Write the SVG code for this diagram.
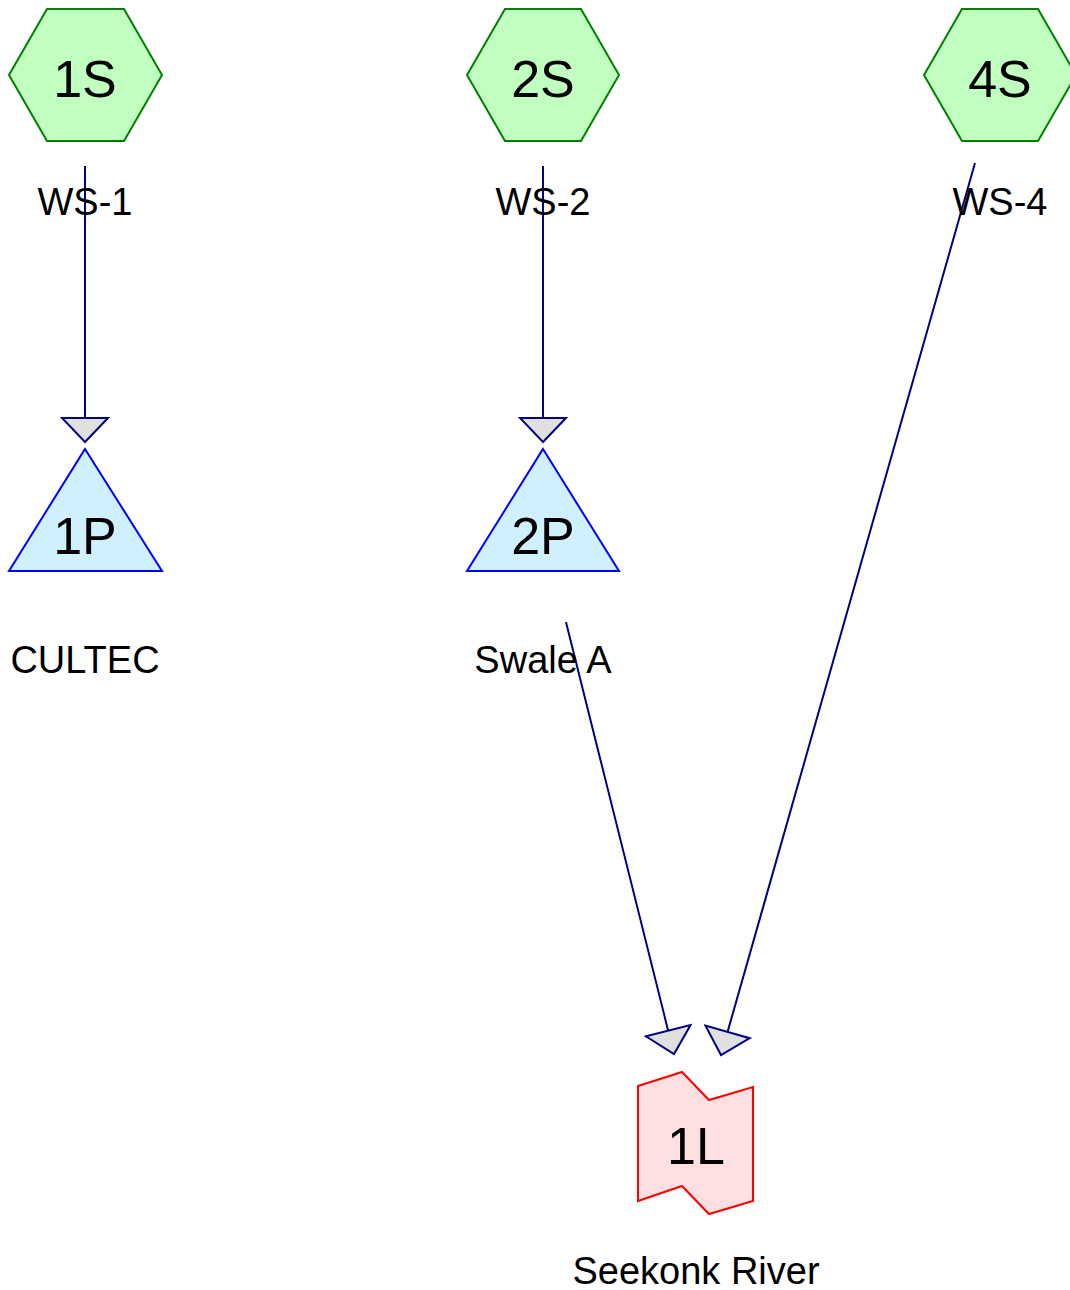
<svg xmlns="http://www.w3.org/2000/svg" width="1070" height="1290" viewBox="0 0 1070 1290">
<style>
.hex{fill:#c0ffc0;stroke:#008000;stroke-width:2}
.pond{fill:#d0f0ff;stroke:#0000ff;stroke-width:2}
.link{fill:#ffe0e0;stroke:#ff0000;stroke-width:2}
.edge{stroke:#000080;stroke-width:2;fill:none;marker-end:url(#arr)}
.id{font-family:"Liberation Sans",Arial,sans-serif;font-size:52px;text-anchor:middle;fill:#000}
.lbl{font-family:"Liberation Sans",Arial,sans-serif;font-size:38px;text-anchor:middle;fill:#000}
</style>
<defs>
<marker id="arr" markerUnits="userSpaceOnUse" markerWidth="30" markerHeight="50" viewBox="-2 -25 30 50" refX="24" refY="0" orient="auto">
<path d="M0,-23 L24,0 L0,23 Z" fill="#e0e0e0" stroke="#000080" stroke-width="2" stroke-linejoin="miter"/>
</marker>
</defs>
<g id="connectors">
<line class="edge" x1="85" y1="166" x2="85" y2="442"/>
<line class="edge" x1="543" y1="166" x2="543" y2="442"/>
<line class="edge" x1="566" y1="622" x2="674" y2="1054"/>
<line class="edge" x1="975" y1="163" x2="721" y2="1055"/>
</g>
<g id="node-1S">
<polygon class="hex" points="9,75 47,9 124,9 162,75 124,141 47,141"/>
<text class="id" x="85" y="97">1S</text>
<text class="lbl" x="85" y="215">WS-1</text>
</g>
<g id="node-2S">
<polygon class="hex" points="467,75 505,9 581,9 619,75 581,141 505,141"/>
<text class="id" x="543" y="97">2S</text>
<text class="lbl" x="543" y="215">WS-2</text>
</g>
<g id="node-4S">
<polygon class="hex" points="924,75 962,9 1038,9 1076,75 1038,141 962,141"/>
<text class="id" x="1000" y="97">4S</text>
<text class="lbl" x="1000" y="215">WS-4</text>
</g>
<g id="node-1P">
<polygon class="pond" points="85,449 162,571 9,571"/>
<text class="id" x="85" y="554">1P</text>
<text class="lbl" x="85" y="673">CULTEC</text>
</g>
<g id="node-2P">
<polygon class="pond" points="543,449 619,571 467,571"/>
<text class="id" x="543" y="554">2P</text>
<text class="lbl" x="543" y="673">Swale A</text>
</g>
<g id="node-1L">
<polygon class="link" points="638,1086 682,1072 709,1100 753,1087 753,1201 709,1214 682,1186 638,1201"/>
<text class="id" x="696" y="1164">1L</text>
<text class="lbl" x="696" y="1284">Seekonk River</text>
</g>
</svg>
